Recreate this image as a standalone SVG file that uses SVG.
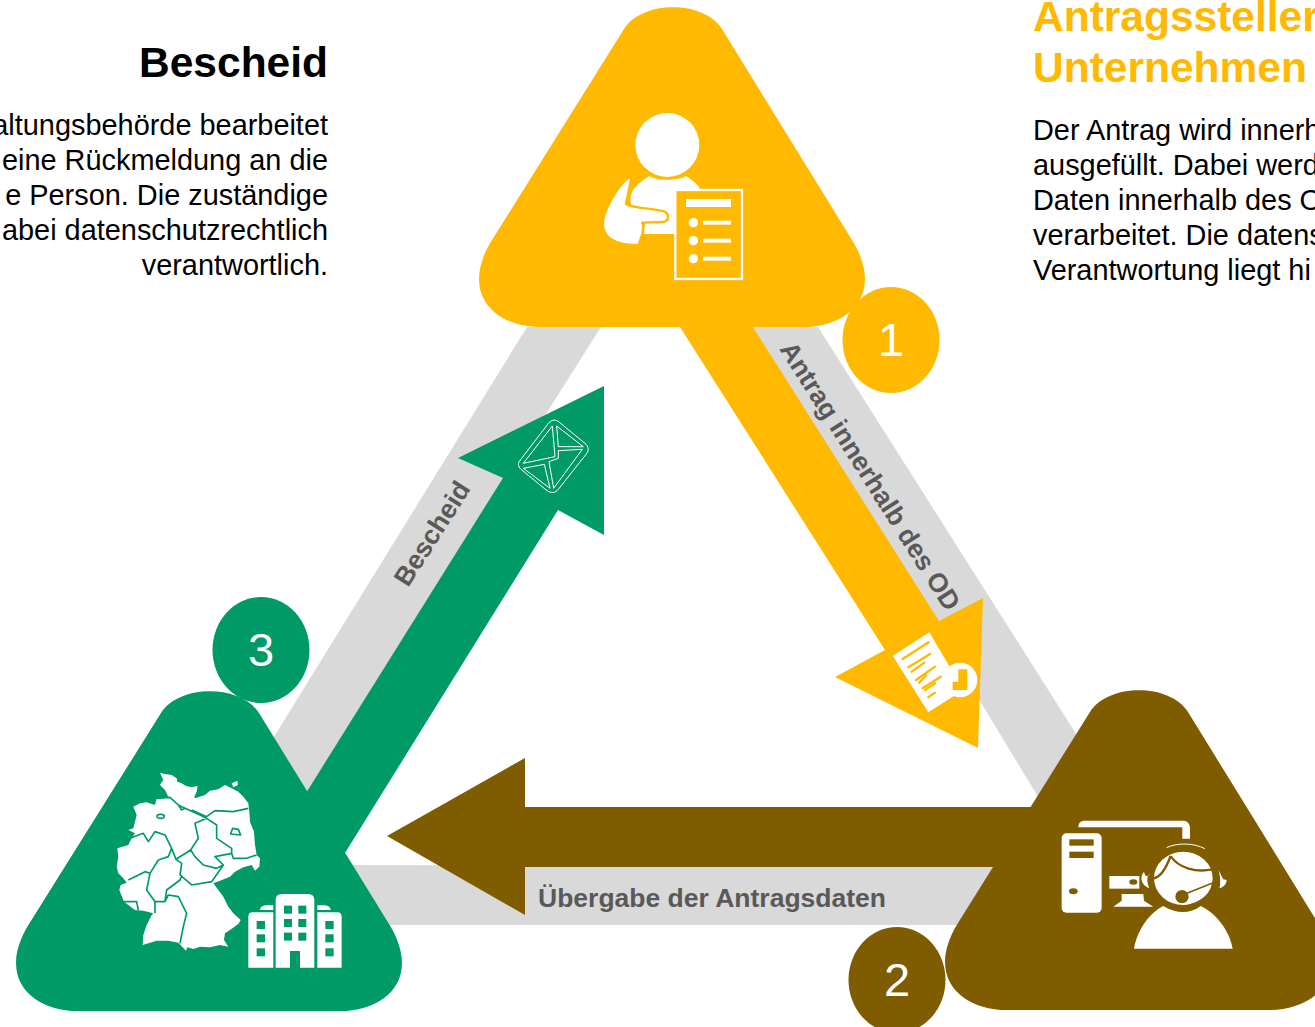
<svg xmlns="http://www.w3.org/2000/svg" width="1315" height="1027" viewBox="0 0 1315 1027">
<style>
text{font-family:"Liberation Sans",Arial,sans-serif}
.h{font-size:42.5px;font-weight:bold}
.b{font-size:28.9px;fill:#000}
.l{font-size:26.5px;font-weight:bold;fill:#595959}
.n{font-size:47px;fill:#fff;text-anchor:middle}
.w{fill:#fff}
.ws{fill:none;stroke:#fff}
.gl{fill:none;stroke:#009A66;stroke-width:5;stroke-linejoin:round}
</style>
<defs><path id="tri" d="M624 29C642 0 704 0 722 29L852 240C885 293 850 327 803 327L541 327C494 327 459 293 492 240Z"/></defs>
<rect width="1315" height="1027" fill="#fff"/>
<g id="connectors">
<polygon points="527,327 601,327 306,793 272,740" fill="#D9D9D9"/>
<polygon points="753,327 818,327 1080,740 1040,800" fill="#D9D9D9"/>
<polygon points="345,865 1000,867 960,925 385,925" fill="#D9D9D9"/>
<polygon id="arrow-1" points="680,327 753,327 939,621 983,598 978,748 835,677 885,650" fill="#FFB900"/>
<polygon id="arrow-2" points="1040,807 525,807 525,758 387,836 525,915 525,867 1000,867" fill="#7F5C00"/>
<polygon id="arrow-3" points="306,793 503,478 458,458 604,386 604,535 558,510 345,853" fill="#009A66"/>
<text class="l" transform="translate(779,349) rotate(57.6)">Antrag innerhalb des OD</text>
<text class="l" x="538" y="907">Übergabe der Antragsdaten</text>
<text class="l" transform="translate(408,588) rotate(-57.5)">Bescheid</text>
</g>
<g id="icon-report" transform="translate(880,620) scale(.3333)">
<polygon class="w" points="148,37 38,107 145,277 250,210"/>
<circle class="w" cx="240" cy="180" r="52"/>
<polygon points="218,185 235,185 235,148 262,148 262,210 218,210" fill="#FFB900"/>
<g stroke="#FFB900" stroke-width="7" stroke-linecap="round">
<line x1="146" y1="67" x2="68" y2="117"/><line x1="150" y1="102" x2="85" y2="142"/>
<line x1="133" y1="128" x2="95" y2="155"/><line x1="165" y1="140" x2="108" y2="180"/>
<line x1="138" y1="165" x2="118" y2="188"/><line x1="182" y1="170" x2="128" y2="205"/>
<line x1="165" y1="190" x2="135" y2="210"/><line x1="165" y1="218" x2="145" y2="232"/>
</g>
</g>
<g id="icon-envelope" transform="translate(505,410) scale(.3333)">
<g class="ws" stroke-width="3" stroke-linejoin="round">
<path d="M132 38C142 28 152 28 162 36L240 100C252 110 252 122 244 132L160 238C150 250 138 250 126 242L48 178C38 168 38 160 46 150Z"/>
<path d="M142 48L150 140L55 160Z"/>
<path d="M155 48L160 110L235 110Z"/>
<path d="M160 122L232 118L146 235L132 155L160 145Z"/>
<path d="M55 175L118 163L135 235Z"/>
</g>
</g>
<g id="node-applicant">
<use href="#tri" fill="#FFB900"/>
<g transform="translate(590,100) scale(.3333)">
<circle class="w" cx="232" cy="135" r="96"/>
<path class="w" d="M178 228C200 243 265 243 288 228C305 238 320 250 332 268L260 268L260 402L162 402L165 368L222 366L225 335L125 318C118 300 122 285 130 268C145 250 160 238 178 228Z"/>
<path class="w" d="M118 235C85 260 45 330 42 370C42 410 75 432 142 432C150 420 148 410 155 400C152 390 162 380 152 368L222 366C238 360 238 338 222 334L125 322C105 318 105 310 110 290L124 240Z"/>
<path fill="none" stroke="#FFB900" stroke-width="7" d="M124 235L108 312C130 325 190 325 222 334C238 340 238 360 222 366L155 368"/>
<rect x="256" y="270" width="200" height="267" fill="#FFB900" stroke="#fff" stroke-width="7"/>
<rect class="w" x="288" y="297" width="135" height="24"/>
<g class="w"><circle cx="310" cy="368" r="14"/><circle cx="310" cy="422" r="14"/><circle cx="310" cy="476" r="14"/>
<rect x="339" y="362" width="84" height="12"/><rect x="339" y="416" width="84" height="12"/><rect x="339" y="470" width="84" height="12"/></g>
</g>
</g>
<g id="node-service">
<use href="#tri" x="466" y="683" fill="#7F5C00"/>
<g transform="translate(1050,810) scale(.3333)">
<path class="w" d="M85 52C85 38 92 32 105 32L398 32C412 32 420 40 420 56L420 86L397 86L397 52Z"/>
<rect class="w" x="35" y="70" width="120" height="238" rx="14"/>
<g fill="#7F5C00"><rect x="58" y="88" width="73" height="19"/><rect x="58" y="125" width="73" height="19"/><ellipse cx="70" cy="244" rx="13" ry="9"/></g>
<rect class="w" x="178" y="198" width="90" height="38"/>
<ellipse cx="250" cy="216" rx="12" ry="8" fill="#7F5C00"/>
<path class="w" d="M215 252L280 252L282 272L310 290L190 290L215 272Z"/>
<path class="w" d="M252 416C265 350 305 305 340 288C380 312 420 312 452 288C500 310 540 365 548 416Z"/>
<ellipse class="w" cx="400" cy="205" rx="88" ry="80"/>
<path fill="none" stroke="#7F5C00" stroke-width="7" d="M312 205C335 200 350 170 362 138M362 138C385 175 440 188 487 178"/>
<path fill="none" stroke="#7F5C00" stroke-width="5" d="M405 252L490 218"/>
<circle cx="396" cy="260" r="20" fill="#7F5C00"/>
<path class="w" d="M282 185C270 200 270 222 298 235C290 215 290 200 300 190C295 205 285 200 282 185Z"/>
<path class="w" d="M505 180C512 200 512 225 508 235C520 232 530 222 530 210L520 208Z"/>
<path class="ws" stroke-width="3" d="M350 113C380 98 430 98 465 116"/>
<path fill="none" stroke="#7F5C00" stroke-width="3" d="M415 285C445 278 465 262 482 245"/>
</g>
</g>
<g id="node-authority">
<use href="#tri" x="-463" y="684" fill="#009A66"/>
<g transform="translate(100,750) scale(.3333)">
<path class="w" d="M180 68L195 72L215 75L230 85L232 95L245 100L258 108L275 112L293 108L290 125L283 140L285 145L315 135L330 122L355 118L375 105L395 115L415 125L430 140L445 160L448 185L450 215L462 245L465 285L470 315L480 325L478 350L465 362L455 345L430 352L405 365L390 380L360 392L340 400L355 420L370 440L385 470L400 490L422 510L415 522L390 540L375 550L372 570L385 590L360 585L330 592L300 590L280 597L262 592L258 602L235 578L205 572L170 572L128 585L130 555L140 525L155 495L160 490L130 482L105 480L72 455L58 420L62 405L80 398L70 385L55 370L50 350L55 320L52 295L85 285L95 265L105 250L85 240L100 235L105 215L110 195L100 170L120 160L140 157L165 165L170 145L205 140L195 120L180 105L190 90Z"/>
<path class="w" d="M395 100L412 92L414 105L400 112Z"/>
<path class="gl" d="M170 145L210 142L235 165L255 175L300 195L320 205M275 180L320 200L345 182L400 185L445 175M320 205L285 220L295 265L272 300L285 320L310 345L350 355L370 345L345 320L395 310L400 325L440 325L470 315M320 205L350 225L350 265L395 295L395 310M90 265L130 250L145 275L165 245L195 255L215 295L205 320L175 330M215 295L228 328L272 300M228 328L245 340L240 375L275 405L335 395L370 345M175 330L150 370L140 420L165 455L195 455L200 420L240 390L245 375M85 390L135 365L150 370M70 455L110 455L115 480M195 455L205 435L235 440L260 490L250 530L240 580M165 490L165 455M235 165L255 175L245 180Z"/>
<path class="gl" d="M392 252L398 235L415 238L422 255Z"/>
<ellipse class="gl" cx="182" cy="199" rx="11" ry="6"/>
<path class="w" d="M527 450Q527 432 545 432L625 432Q643 432 643 450L643 653L600 653L600 603L570 603L570 653L527 653Z"/>
<path class="w" d="M445 500Q445 487 458 487L520 487L520 653L445 653ZM652 487L712 487Q725 487 725 500L725 653L652 653ZM480 480Q482 466 500 466L520 466L520 480ZM652 466L672 466Q690 466 692 480L652 480Z"/>
<g fill="#009A66"><rect x="552" y="467" width="24" height="24"/><rect x="595" y="467" width="24" height="24"/><rect x="552" y="507" width="24" height="24"/><rect x="595" y="507" width="24" height="24"/><rect x="552" y="548" width="24" height="24"/><rect x="595" y="548" width="24" height="24"/>
<rect x="470" y="513" width="25" height="24"/><rect x="470" y="553" width="25" height="24"/><rect x="470" y="595" width="25" height="24"/><rect x="676" y="513" width="25" height="24"/><rect x="676" y="553" width="25" height="24"/><rect x="676" y="595" width="25" height="24"/></g>
</g>
</g>
<g id="badge-1"><ellipse cx="891" cy="340" rx="48.5" ry="53" fill="#FFB900"/><text class="n" x="891" y="356">1</text></g>
<g id="badge-2"><ellipse cx="897" cy="980" rx="48.5" ry="53" fill="#7F5C00"/><text class="n" x="897" y="996">2</text></g>
<g id="badge-3"><ellipse cx="261" cy="650" rx="48.5" ry="53" fill="#009A66"/><text class="n" x="261" y="666">3</text></g>
<g id="text-left" text-anchor="end">
<text class="h" x="328" y="77" fill="#000">Bescheid</text>
<text class="b" x="328" y="135">altungsbehörde bearbeitet</text>
<text class="b" x="328" y="170">eine Rückmeldung an die</text>
<text class="b" x="328" y="205">e Person. Die zuständige</text>
<text class="b" x="328" y="240">abei datenschutzrechtlich</text>
<text class="b" x="328" y="275">verantwortlich.</text>
</g>
<g id="text-right">
<text class="h" x="1033" y="31" fill="#FFB900">Antragssteller</text>
<text class="h" x="1033" y="82" fill="#FFB900">Unternehmen</text>
<text class="b" x="1033" y="140">Der Antrag wird innerh</text>
<text class="b" x="1033" y="175">ausgefüllt. Dabei werd</text>
<text class="b" x="1033" y="210">Daten innerhalb des O</text>
<text class="b" x="1033" y="245">verarbeitet. Die datens</text>
<text class="b" x="1033" y="280">Verantwortung liegt hi</text>
</g>
</svg>
